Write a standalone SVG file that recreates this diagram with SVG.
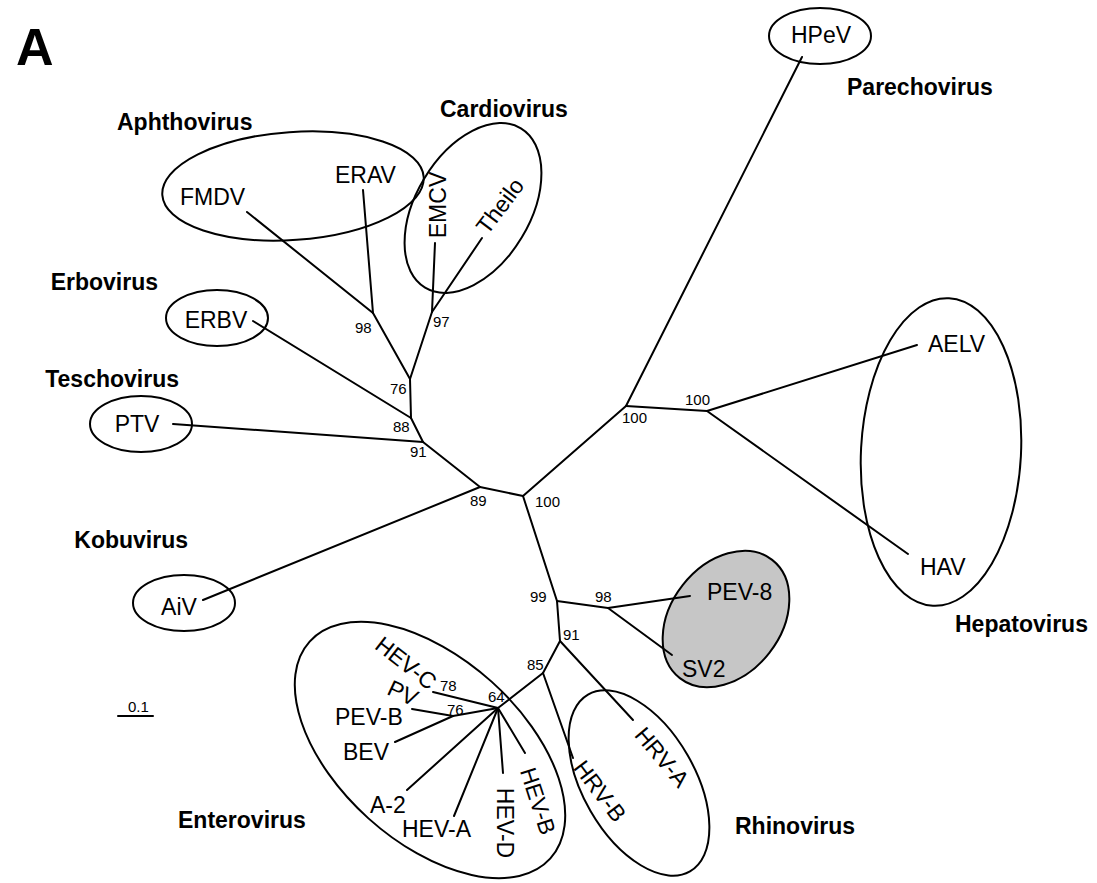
<svg xmlns="http://www.w3.org/2000/svg" width="1097" height="883" viewBox="0 0 1097 883">
<style>
.ln{stroke:#000;stroke-width:2;fill:none;stroke-linecap:round}
.el{stroke:#000;stroke-width:2;fill:none}
.gr{stroke:#000;stroke-width:2;fill:#c6c6c6}
.lf{font-family:"Liberation Sans",Arial,sans-serif;font-size:23px;fill:#000}
.cl{font-family:"Liberation Sans",Arial,sans-serif;font-size:23px;font-weight:bold;fill:#000}
.bs{font-family:"Liberation Sans",Arial,sans-serif;font-size:15px;fill:#000}
</style>
<rect width="1097" height="883" fill="#fff"/>
<text x="16" y="65" font-family="Liberation Sans,Arial,sans-serif" font-size="52" font-weight="bold">A</text>

<g id="clade-ellipses">
<ellipse class="el" cx="293" cy="186" rx="131" ry="54" transform="rotate(-4 293 186)"/>
<ellipse class="el" cx="473" cy="208" rx="57" ry="93" transform="rotate(31 473 208)"/>
<ellipse class="el" cx="217" cy="318" rx="51" ry="28"/>
<ellipse class="el" cx="141" cy="424" rx="51" ry="28"/>
<ellipse class="el" cx="184" cy="603" rx="51" ry="28"/>
<ellipse class="el" cx="820" cy="36" rx="51" ry="28"/>
<ellipse class="el" cx="941" cy="452" rx="80" ry="154" transform="rotate(3 941 452)"/>
<ellipse class="gr" cx="726" cy="619" rx="55" ry="75" transform="rotate(38 726 619)"/>
<ellipse class="el" cx="639" cy="783" rx="56" ry="102" transform="rotate(-30 639 783)"/>
<ellipse class="el" cx="430" cy="750" rx="162" ry="92" transform="rotate(42 430 750)"/>
</g>

<g id="connectors">
<line class="ln" x1="373" y1="313" x2="247" y2="212"/>
<line class="ln" x1="373" y1="313" x2="363" y2="190"/>
<line class="ln" x1="432" y1="312" x2="435" y2="243"/>
<line class="ln" x1="432" y1="312" x2="482" y2="238"/>
<line class="ln" x1="410" y1="379" x2="373" y2="313"/>
<line class="ln" x1="410" y1="379" x2="432" y2="312"/>
<line class="ln" x1="411" y1="418" x2="410" y2="379"/>
<line class="ln" x1="411" y1="418" x2="253" y2="321"/>
<line class="ln" x1="423" y1="442" x2="411" y2="418"/>
<line class="ln" x1="423" y1="442" x2="173" y2="424"/>
<line class="ln" x1="480" y1="487" x2="423" y2="442"/>
<line class="ln" x1="480" y1="487" x2="203" y2="600"/>
<line class="ln" x1="523" y1="496" x2="480" y2="487"/>
<line class="ln" x1="523" y1="496" x2="626" y2="406"/>
<line class="ln" x1="626" y1="406" x2="802" y2="57"/>
<line class="ln" x1="626" y1="406" x2="707" y2="411"/>
<line class="ln" x1="707" y1="411" x2="917" y2="345"/>
<line class="ln" x1="707" y1="411" x2="908" y2="554"/>
<line class="ln" x1="523" y1="496" x2="557" y2="601"/>
<line class="ln" x1="557" y1="601" x2="608" y2="608"/>
<line class="ln" x1="608" y1="608" x2="690" y2="596"/>
<line class="ln" x1="608" y1="608" x2="672" y2="655"/>
<line class="ln" x1="557" y1="601" x2="560" y2="641"/>
<line class="ln" x1="560" y1="641" x2="633" y2="720"/>
<line class="ln" x1="560" y1="641" x2="543" y2="673"/>
<line class="ln" x1="543" y1="673" x2="573" y2="758"/>
<line class="ln" x1="543" y1="673" x2="498" y2="708"/>
<line class="ln" x1="498" y1="708" x2="433" y2="692"/>
<line class="ln" x1="498" y1="708" x2="453" y2="716"/>
<line class="ln" x1="453" y1="716" x2="412" y2="709"/>
<line class="ln" x1="453" y1="716" x2="395" y2="742"/>
<line class="ln" x1="498" y1="708" x2="407" y2="790"/>
<line class="ln" x1="498" y1="708" x2="454" y2="816"/>
<line class="ln" x1="498" y1="708" x2="503" y2="773"/>
<line class="ln" x1="498" y1="708" x2="525" y2="753"/>
</g>

<g id="leaves">
<g id="leaf-FMDV"><text class="lf" x="180" y="205">FMDV</text></g>
<g id="leaf-ERAV"><text class="lf" x="335" y="183">ERAV</text></g>
<g id="leaf-EMCV"><text class="lf" x="0" y="8" text-anchor="middle" transform="translate(438 205) rotate(-90)">EMCV</text></g>
<g id="leaf-Theilo"><text class="lf" x="0" y="8" text-anchor="middle" transform="translate(500 206) rotate(-53)">Theilo</text></g>
<g id="leaf-ERBV"><text class="lf" x="216" y="328" text-anchor="middle">ERBV</text></g>
<g id="leaf-PTV"><text class="lf" x="137" y="432" text-anchor="middle">PTV</text></g>
<g id="leaf-AiV"><text class="lf" x="179" y="615" text-anchor="middle">AiV</text></g>
<g id="leaf-HPeV"><text class="lf" x="821" y="43" text-anchor="middle">HPeV</text></g>
<g id="leaf-AELV"><text class="lf" x="928" y="352">AELV</text></g>
<g id="leaf-HAV"><text class="lf" x="920" y="575">HAV</text></g>
<g id="leaf-PEV-8"><text class="lf" x="707" y="600">PEV-8</text></g>
<g id="leaf-SV2"><text class="lf" x="682" y="677">SV2</text></g>
<g id="leaf-HRV-A"><text class="lf" x="0" y="8" text-anchor="middle" transform="translate(662 757) rotate(50)">HRV-A</text></g>
<g id="leaf-HRV-B"><text class="lf" x="0" y="8" text-anchor="middle" transform="translate(600 791) rotate(53)">HRV-B</text></g>
<g id="leaf-HEV-C"><text class="lf" x="0" y="8" text-anchor="middle" transform="translate(406 663) rotate(38)">HEV-C</text></g>
<g id="leaf-PV"><text class="lf" x="0" y="8" text-anchor="middle" transform="translate(403 693) rotate(25)">PV</text></g>
<g id="leaf-PEV-B"><text class="lf" x="335" y="725">PEV-B</text></g>
<g id="leaf-BEV"><text class="lf" x="343" y="760">BEV</text></g>
<g id="leaf-A-2"><text class="lf" x="370" y="813">A-2</text></g>
<g id="leaf-HEV-A"><text class="lf" x="402" y="837">HEV-A</text></g>
<g id="leaf-HEV-D"><text class="lf" x="0" y="8" text-anchor="middle" transform="translate(505 823) rotate(90)">HEV-D</text></g>
<g id="leaf-HEV-B"><text class="lf" x="0" y="8" text-anchor="middle" transform="translate(538 801) rotate(72)">HEV-B</text></g>
</g>

<g id="clade-labels">
<text class="cl" x="117" y="130">Aphthovirus</text>
<text class="cl" x="440" y="117">Cardiovirus</text>
<text class="cl" x="847" y="95">Parechovirus</text>
<text class="cl" x="158" y="290" text-anchor="end">Erbovirus</text>
<text class="cl" x="179" y="387" text-anchor="end">Teschovirus</text>
<text class="cl" x="188" y="548" text-anchor="end">Kobuvirus</text>
<text class="cl" x="178" y="828">Enterovirus</text>
<text class="cl" x="735" y="834">Rhinovirus</text>
<text class="cl" x="955" y="632">Hepatovirus</text>
</g>

<g id="bootstrap">
<text class="bs" x="355" y="333">98</text>
<text class="bs" x="433" y="327">97</text>
<text class="bs" x="390" y="394">76</text>
<text class="bs" x="393" y="432">88</text>
<text class="bs" x="410" y="457">91</text>
<text class="bs" x="470" y="506">89</text>
<text class="bs" x="535" y="507">100</text>
<text class="bs" x="622" y="423">100</text>
<text class="bs" x="685" y="405">100</text>
<text class="bs" x="530" y="602">99</text>
<text class="bs" x="595" y="602">98</text>
<text class="bs" x="563" y="640">91</text>
<text class="bs" x="527" y="670">85</text>
<text class="bs" x="488" y="702">64</text>
<text class="bs" x="440" y="691">78</text>
<text class="bs" x="447" y="715">76</text>
</g>

<g id="scale-bar">
<text class="bs" x="128" y="712">0.1</text>
<line class="ln" x1="118" y1="716" x2="153" y2="716"/>
</g>
</svg>
